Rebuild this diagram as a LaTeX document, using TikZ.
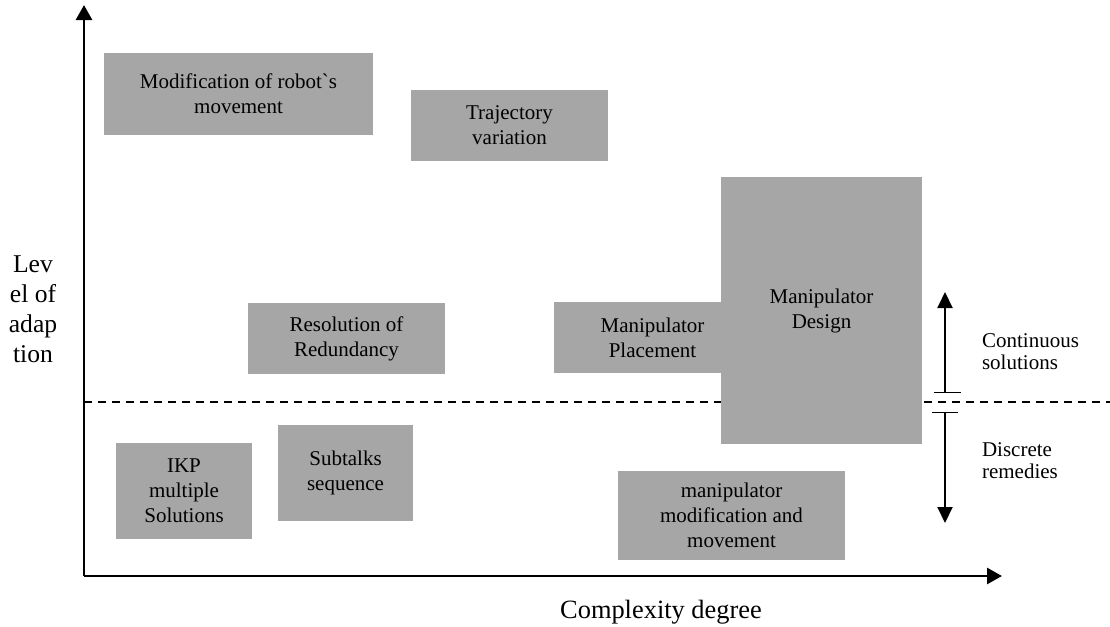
\documentclass[tikz,border=0pt]{standalone}
\usepackage{fontspec}
\setmainfont{Liberation Serif}[Ligatures=TeXOff]
\usepackage{xcolor}
\usetikzlibrary{arrows.meta}
\definecolor{remedy-gray}{RGB}{166,166,166}

\tikzset{
  remedy/.style={fill=remedy-gray, draw=none, align=center, inner sep=0pt,
    font=\fontsize{10.5}{12.5}\selectfont},
  axis/.style={line width=1.4pt, -{Triangle[length=7.5pt,width=8pt]}},
  span/.style={line width=1pt, -{Triangle[length=8pt,width=7.5pt]}},
}

\begin{document}
\begin{tikzpicture}[x=0.5pt,y=-0.5pt]
  \useasboundingbox (0,0) rectangle (1110,627);

  % axes
  \coordinate (origin) at (84,576);
  \coordinate (ytip) at (84,5);
  \coordinate (xtip) at (1002,576);
  \draw[axis] (origin) -- (ytip);
  \draw[axis] (origin) -- (xtip);
  \node[font=\fontsize{12.8}{15}\selectfont, align=center] (ylabel) at (33,309) {Lev\\el of\\adap\\tion};
  \node[font=\fontsize{13.2}{15}\selectfont, anchor=base] (xlabel) at (661,618) {Complexity degree};

  % border between discrete and continuous
  \coordinate (dashL) at (84,402);
  \coordinate (dashR) at (1110,402);
  \draw[line width=0.6pt, dash pattern=on 4pt off 3pt] (dashL) -- (dashR);

  % remedies
  \node[remedy, minimum width=134.5pt, minimum height=41pt] (robotmove) at (238.5,94) {Modification of robot`s\\movement};
  \node[remedy, minimum width=98.5pt, minimum height=35.5pt] (trajectory) at (509.5,125.5) {Trajectory\\variation};
  \node[remedy, minimum width=98.5pt, minimum height=35.5pt] (redundancy) at (346.5,338.5) {Resolution of\\Redundancy};
  \node[remedy, minimum width=98.5pt, minimum height=35.5pt] (placement) at (652.5,337.5) {Manipulator\\Placement};
  \node[remedy, minimum width=100.5pt, minimum height=133.5pt] (design) at (821.5,310.5) {Manipulator\\Design};
  \node[remedy, minimum width=68pt, minimum height=48pt] (ikp) at (184,491) {IKP\\multiple\\Solutions};
  \node[remedy, minimum width=67.5pt, minimum height=48pt] (subtalks) at (345.5,473) {Subtalks\\sequence};
  \node[remedy, minimum width=113.5pt, minimum height=44.5pt] (manipmod) at (731.5,515.5) {manipulator\\modification and\\movement};

  % continuous / discrete span
  \coordinate (contTop) at (945,292);
  \coordinate (contBot) at (945,392);
  \coordinate (discTop) at (945,412);
  \coordinate (discBot) at (945,523);
  \draw[span] (contBot) -- (contTop);
  \draw[span] (discTop) -- (discBot);
  \draw[line width=0.5pt] (934,392) -- (961,392);
  \draw[line width=0.5pt] (932,412) -- (958,412);
  \node[font=\fontsize{10.5}{11}\selectfont, align=left, anchor=west] (contlabel) at (975,352) {Continuous\\solutions};
  \node[font=\fontsize{10.5}{11}\selectfont, align=left, anchor=west] (disclabel) at (975,461) {Discrete\\remedies};
\end{tikzpicture}
\end{document}
